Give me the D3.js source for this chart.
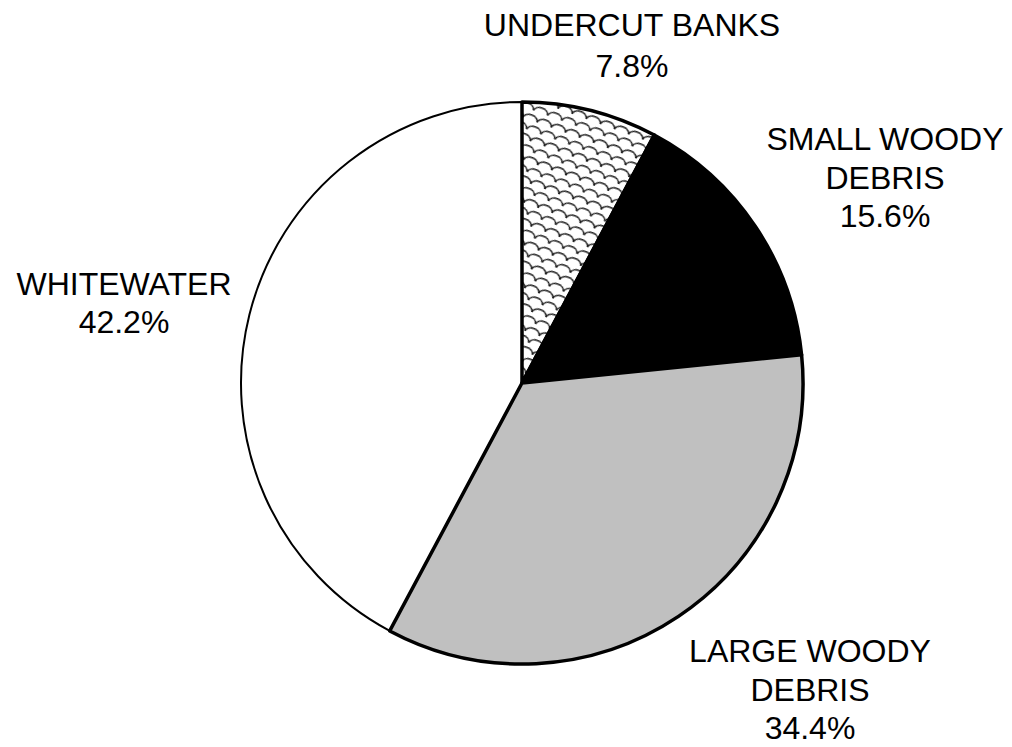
<!DOCTYPE html>
<html>
<head>
<meta charset="utf-8">
<script src="https://cdn.jsdelivr.net/npm/d3@7"></script>
<style>
  html, body { margin: 0; padding: 0; background: #fff; }
  text { font-family: "Liberation Sans", Arial, sans-serif; }
</style>
</head>
<body>
<svg id="chart" width="1012" height="747"></svg>
<script>
// Habitat composition, clockwise from 12 o'clock
const categories = ["UNDERCUT BANKS", "SMALL WOODY DEBRIS", "LARGE WOODY DEBRIS", "WHITEWATER"];
const labelLines = [["UNDERCUT BANKS"], ["SMALL WOODY", "DEBRIS"], ["LARGE WOODY", "DEBRIS"], ["WHITEWATER"]];
const values = [7.8, 15.6, 34.4, 42.2];
const fills = ["url(#scales)", "#000000", "#c0c0c0", "#ffffff"];
const strokeWidths = [3.5, 3.5, 3.5, 2];

const svg = d3.select("#chart");
const cx = 522, cy = 383, r = 281;

// Fish-scale hatch for the undercut banks wedge
const defs = svg.append("defs");
const pat = defs.append("pattern")
  .attr("id", "scales")
  .attr("patternUnits", "userSpaceOnUse")
  .attr("width", 15).attr("height", 20)
  .attr("patternTransform", "rotate(20)");
pat.append("rect").attr("width", 15).attr("height", 20).attr("fill", "#fff");
pat.append("path")
  .attr("d", [
    "M0,10 C1,3 14,3 15,10",
    "M-7.5,20 C-6.5,13 6.5,13 7.5,20 C8.5,13 21.5,13 22.5,20",
    "M-7.5,0 C-6.5,-7 6.5,-7 7.5,0 C8.5,-7 21.5,-7 22.5,0"
  ].join(" "))
  .attr("fill", "none")
  .attr("stroke", "#1a1a1a")
  .attr("stroke-width", 1.6);

const pie = d3.pie().sort(null).value(d => d)(values);
const arc = d3.arc().innerRadius(0).outerRadius(r);

const g = svg.append("g").attr("transform", `translate(${cx},${cy})`);

// Whitewater (thin outline) first, thicker-outlined wedges on top
const order = [3, 0, 1, 2];
g.selectAll("path.slice")
  .data(order.map(i => ({ p: pie[i], i })))
  .join("path")
  .attr("class", "slice")
  .attr("d", d => arc(d.p))
  .attr("fill", d => fills[d.i])
  .attr("stroke", "#000")
  .attr("stroke-width", d => strokeWidths[d.i])
  .attr("stroke-linejoin", "round");

// Labels: name lines followed by percentage
const labelPos = [
  [632, 25], [885, 139], [810, 651], [124, 284]
];
const lineSpacing = [41, 38.5, 38.5, 38];
const fmt = d3.format(".1f");

categories.forEach((c, i) => {
  const lines = labelLines[i].concat([fmt(values[i]) + "%"]);
  const t = svg.append("text")
    .attr("text-anchor", "middle")
    .attr("font-size", 32)
    .attr("fill", "#000");
  lines.forEach((ln, k) => {
    t.append("tspan")
      .attr("x", labelPos[i][0])
      .attr("y", labelPos[i][1] + k * lineSpacing[i])
      .attr("dy", "0.35em")
      .text(ln);
  });
});
</script>
</body>
</html>
